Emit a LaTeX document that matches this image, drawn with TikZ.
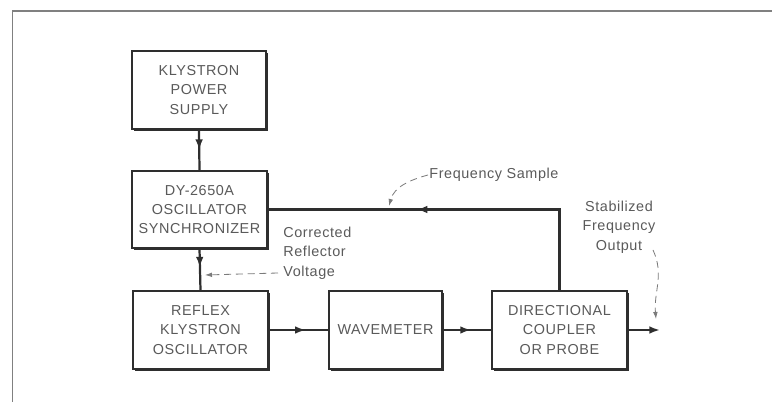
\documentclass[tikz,border=0pt]{standalone}
\usepackage{fontspec}
\setmainfont{Liberation Sans}[LetterSpace=4]
\usepackage{xcolor}
\usepackage{tikz}
\usetikzlibrary{arrows.meta,shadows,decorations.markings,calc}

\definecolor{ink}{HTML}{2E2E2E}
\definecolor{txt}{HTML}{5A5A5A}

\begin{document}
\begin{tikzpicture}[x=0.03cm,y=-0.03cm,>={Latex[length=9pt,width=6.5pt]},
  font=\fontsize{12.3}{16.6}\selectfont,
  blk/.style={draw=ink,line width=0.9pt,fill=white,text=txt,align=center,
    drop shadow={shadow xshift=1.6pt,shadow yshift=-1.6pt,fill=ink,opacity=1}},
  wire/.style={draw=ink,line width=1.9pt},
  midarrow/.style={postaction={decorate,decoration={markings,
    mark=at position #1 with {\arrow{>}}}}},
  note/.style={text=txt,inner sep=1pt},
  hint/.style={draw=txt!80,line width=0.7pt,dash pattern=on 6pt off 4pt,
    -{Latex[length=6pt,width=4pt]}}]
\useasboundingbox (0,0) rectangle (772,402);
% frame
\draw[draw=gray,line width=1pt] (12.5,402) -- (12.5,11) -- (772,11);
% blocks
\node[blk,minimum width=134*0.03cm,minimum height=78*0.03cm] (kps) at (199,90) {KLYSTRON\\POWER\\SUPPLY};
\node[blk,minimum width=135*0.03cm,minimum height=77*0.03cm] (sync) at (199.5,209.5) {DY-2650A\\OSCILLATOR\\SYNCHRONIZER};
\node[blk,minimum width=135*0.03cm,minimum height=78*0.03cm] (rko) at (200.5,330) {REFLEX\\KLYSTRON\\OSCILLATOR};
\node[blk,minimum width=113*0.03cm,minimum height=78*0.03cm] (wm) at (385.5,330) {WAVEMETER};
\node[blk,minimum width=135*0.03cm,minimum height=78*0.03cm] (dc) at (559.5,330) {DIRECTIONAL\\COUPLER\\OR PROBE};
% signal path
\draw[wire,midarrow=0.5] (kps.south) -- (sync.north);
\draw[wire,midarrow=0.45] (sync.south) -- (rko.north);
\draw[wire,midarrow=0.62] (rko.east) -- (wm.west);
\draw[wire,midarrow=0.58] (wm.east) -- (dc.west);
\coordinate (out) at (660,330);
\draw[wire,->] (dc.east) -- (out);
\draw[wire,midarrow=0.6] (dc.north) |- (sync.east);
% labels
\node[note,anchor=west] (fs) at (428,175) {Frequency Sample};
\coordinate (fsp) at (389,206);
\draw[hint] (fs.west) to[out=195,in=75] (fsp);
\node[note,anchor=west,align=left] (crv) at (282,253) {Corrected\\Reflector\\Voltage};
\coordinate (crvs) at (278,273);
\coordinate (crve) at (205,275);
\draw[hint] (crvs) -- (crve);
\node[note,align=center] (sfo) at (619,227) {Stabilized\\Frequency\\Output};
\coordinate (sfos) at (653,250);
\coordinate (sfoe) at (656,319);
\draw[hint] (sfos) to[out=-65,in=95] (sfoe);
\end{tikzpicture}
\end{document}
